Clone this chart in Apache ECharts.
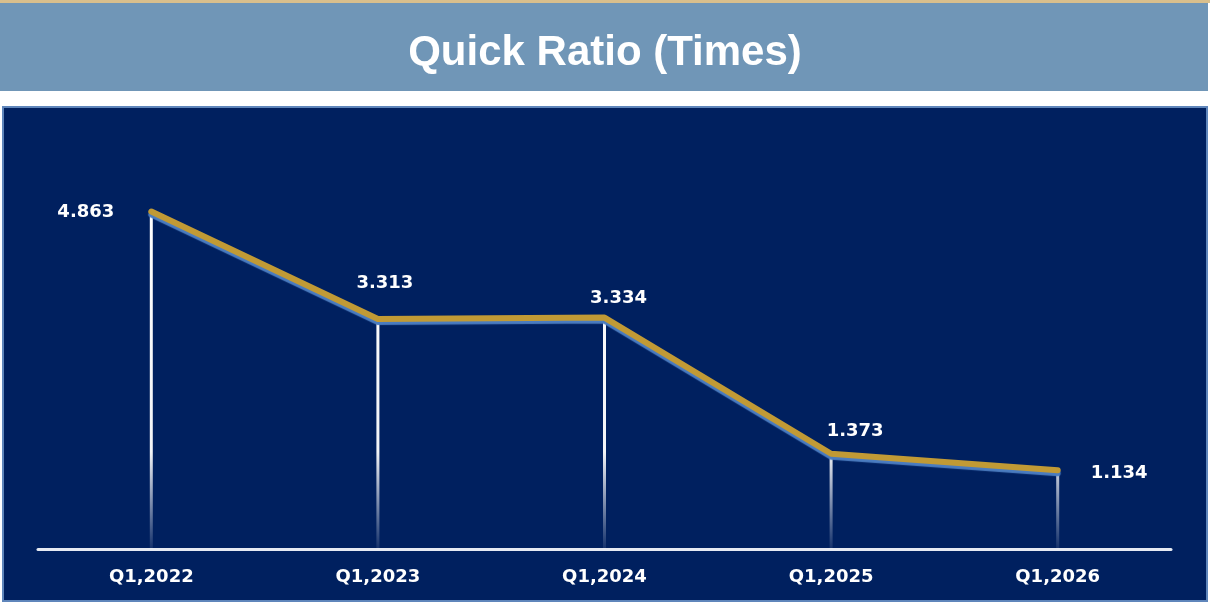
<!DOCTYPE html>
<html>
<head>
<meta charset="utf-8">
<script src="https://cdn.jsdelivr.net/npm/echarts@6/dist/echarts.min.js"></script>
<style>
  html, body { margin: 0; padding: 0; background: #fff; }
  #chart { width: 1210px; height: 606px; }
</style>
</head>
<body>
<div id="chart"></div>
<script>
// data
var categories = ['Q1,2022', 'Q1,2023', 'Q1,2024', 'Q1,2025', 'Q1,2026'];
var quickRatio = [4.863, 3.313, 3.334, 1.373, 1.134];

// where each value label sits relative to its point
var labelLayout = [
    { position: 'left', distance: 36, offset: [0, 1] },
    { position: 'top', distance: 26, offset: [7, 0] },
    { position: 'top', distance: 9, offset: [14, 0] },
    { position: 'top', distance: 12, offset: [24, 0] },
    { position: 'right', distance: 32, offset: [0, 3] }
];

var myChart = echarts.init(document.getElementById('chart'));

var lineData = quickRatio.map(function (v, i) {
    return {
        value: v,
        label: labelLayout[i]
    };
});

var option = {
    animation: false,
    backgroundColor: '#ffffff',
    graphic: [
        // gold strip on top
        { type: 'rect', left: 0, top: 0, shape: { width: 1210, height: 3 }, style: { fill: '#d9bf8c' }, z: -10 },
        // header band
        { type: 'rect', left: 0, top: 3, shape: { width: 1208, height: 88 }, style: { fill: '#7096b7' }, z: -10 },
        // navy panel
        {
            type: 'rect', left: 2, top: 106,
            shape: { width: 1204, height: 494 },
            style: { fill: '#00205f', stroke: '#5f86bb', lineWidth: 2 },
            z: -10
        }
    ],
    title: {
        text: 'Quick Ratio (Times)',
        left: 'center',
        top: 27,
        textStyle: {
            color: '#ffffff',
            fontFamily: 'Liberation Sans',
            fontWeight: 'bold',
            fontSize: 42
        }
    },
    grid: {
        left: 38,
        right: 39,
        top: 202,
        bottom: 57
    },
    xAxis: {
        type: 'category',
        data: categories,
        boundaryGap: true,
        axisLine: {
            show: true,
            lineStyle: { color: '#e6eaf2', width: 3 }
        },
        axisTick: { show: false },
        splitLine: { show: false },
        axisLabel: {
            color: '#ffffff',
            fontFamily: 'DejaVu Sans',
            fontWeight: 'bold',
            fontSize: 18,
            margin: 19
        }
    },
    yAxis: {
        type: 'value',
        min: 0,
        max: 5,
        show: false,
        splitLine: { show: false }
    },
    series: [
        {
            // white drop lines from each point to the axis
            type: 'bar',
            data: quickRatio,
            barWidth: 3,
            z: 1,
            silent: true,
            itemStyle: {
                color: new echarts.graphic.LinearGradient(0, 202, 0, 549, [
                    { offset: 0, color: 'rgba(255,255,255,1)' },
                    { offset: 0.72, color: 'rgba(255,255,255,0.95)' },
                    { offset: 1, color: 'rgba(255,255,255,0.08)' }
                ], true)
            }
        },
        {
            type: 'line',
            data: lineData,
            z: 3,
            symbol: 'circle',
            symbolSize: 2,
            showSymbol: true,
            itemStyle: { color: '#c19a35' },
            lineStyle: {
                color: '#c19a35',
                width: 6,
                cap: 'round',
                join: 'round',
                shadowColor: '#4a7cc0',
                shadowBlur: 1,
                shadowOffsetY: 3
            },
            label: {
                show: true,
                color: '#ffffff',
                fontFamily: 'DejaVu Sans',
                fontWeight: 'bold',
                fontSize: 18,
                formatter: function (p) {
                    return p.value.toFixed(3);
                }
            }
        }
    ]
};

myChart.setOption(option);
</script>
</body>
</html>
